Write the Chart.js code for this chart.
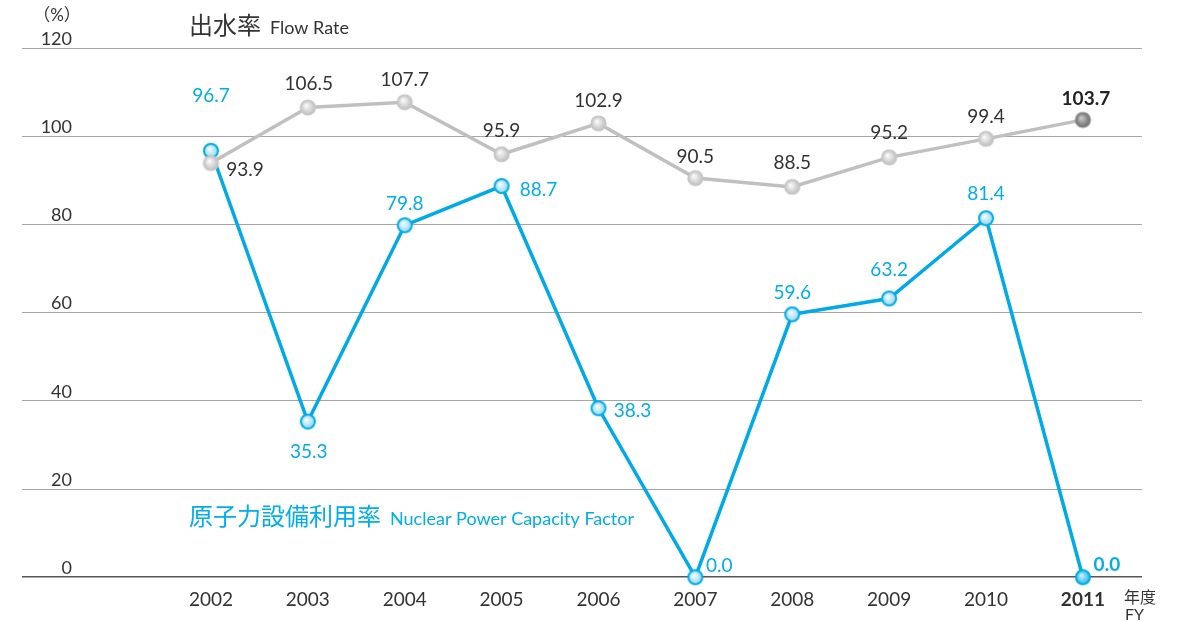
<!DOCTYPE html>
<html>
<head>
<meta charset="utf-8">
<script src="https://cdn.jsdelivr.net/npm/chart.js@4/dist/chart.umd.min.js"></script>
<style>
  html, body { margin: 0; padding: 0; background: #fff; }
  #wrap { position: relative; width: 1182px; height: 621px; }
</style>
</head>
<body>
<div id="wrap"><canvas id="chart" width="1182" height="621"></canvas></div>
<script>
// Data
const years = [2002, 2003, 2004, 2005, 2006, 2007, 2008, 2009, 2010, 2011];
const flowRate = [93.9, 106.5, 107.7, 95.9, 102.9, 90.5, 88.5, 95.2, 99.4, 103.7];
const capacityFactor = [96.7, 35.3, 79.8, 88.7, 38.3, 0.0, 59.6, 63.2, 81.4, 0.0];
const yTicks = [0, 20, 40, 60, 80, 100, 120];

const BLUE = '#00aee8';
const TEXT = '#333333';
const FONT = "Lato, 'Noto Sans CJK JP', sans-serif";

// label offsets from each point (px)
const flowLabelOffsets = [[34, 7], [1, -24], [0, -22], [0, -23], [0, -23], [0, -21], [0, -24], [0, -24], [0, -22], [3, -21]];
const capLabelOffsets = [[0, -55], [1, 30], [0, -21], [37, 4], [34, 3], [24, -11], [0, -21], [0, -29], [0, -24], [24, -12]];

// Small shaded dots used as point styles
function makeDot(r, inner, outer, stroke, lw) {
    const s = Math.ceil(2 * r + lw + 2);
    const c = document.createElement('canvas');
    c.width = c.height = s;
    const g = c.getContext('2d');
    const cx = s / 2;
    const grad = g.createRadialGradient(cx - r * 0.25, cx - r * 0.3, 0, cx, cx, r);
    grad.addColorStop(0, inner);
    grad.addColorStop(1, outer);
    g.beginPath();
    g.arc(cx, cx, r, 0, Math.PI * 2);
    g.fillStyle = grad;
    g.fill();
    g.lineWidth = lw;
    g.strokeStyle = stroke;
    g.stroke();
    return c;
}
const dotBlue = makeDot(7, '#ffffff', '#8fd6f4', BLUE, 2);
const dotBlueLast = makeDot(7, '#d8f4ff', '#22b8ee', BLUE, 2);
const dotGray = makeDot(7.5, '#ffffff', '#bdbdbd', '#c6c6c6', 1.2);
const dotGrayLast = makeDot(7.5, '#d0d0d0', '#6a6a6a', '#8a8a8a', 1.2);

const overlay = {
    id: 'overlay',
    afterDraw(chart) {
        const { ctx, scales: { x, y } } = chart;
        ctx.save();
        ctx.textBaseline = 'middle';

        // y tick labels, above each gridline
        ctx.fillStyle = TEXT;
        ctx.font = '18px ' + FONT;
        ctx.textAlign = 'right';
        yTicks.forEach(v => ctx.fillText(String(v), 72, y.getPixelForValue(v) - 9));
        ctx.font = '17px ' + FONT;
        ctx.textAlign = 'center';
        ctx.fillText('（%）', 57, 16);

        // series titles
        ctx.textAlign = 'left';
        ctx.font = '24px ' + FONT;
        ctx.fillText('出水率', 189, 26);
        ctx.font = '18px ' + FONT;
        ctx.fillText('Flow Rate', 270, 28);
        ctx.fillStyle = BLUE;
        ctx.font = '24px ' + FONT;
        ctx.fillText('原子力設備利用率', 189, 517);
        ctx.font = '18px ' + FONT;
        ctx.fillText('Nuclear Power Capacity Factor', 390, 519);

        // unit under the x axis
        ctx.fillStyle = TEXT;
        ctx.font = '16px ' + FONT;
        ctx.fillText('年度', 1124, 598);
        ctx.fillText('FY', 1125, 615);

        // value labels
        ctx.textAlign = 'center';
        const drawLabels = (dsIndex, values, offsets, color) => {
            const meta = chart.getDatasetMeta(dsIndex);
            meta.data.forEach((pt, i) => {
                const last = i === values.length - 1;
                ctx.font = (last ? 'bold ' : '') + '19px ' + FONT;
                ctx.fillStyle = last && dsIndex === 0 ? '#222' : color;
                ctx.fillText(values[i].toFixed(1), pt.x + offsets[i][0], pt.y + offsets[i][1]);
            });
        };
        drawLabels(0, flowRate, flowLabelOffsets, TEXT);
        drawLabels(1, capacityFactor, capLabelOffsets, BLUE);
        ctx.restore();
    }
};

new Chart(document.getElementById('chart'), {
    type: 'line',
    data: {
        datasets: [
            {
                label: 'Flow Rate',
                data: years.map((yr, i) => ({ x: yr, y: flowRate[i] })),
                borderColor: '#c0c0c0',
                borderWidth: 3.5,
                pointStyle: ctx => ctx.dataIndex === years.length - 1 ? dotGrayLast : dotGray,
                clip: false,
                order: 0
            },
            {
                label: 'Nuclear Power Capacity Factor',
                data: years.map((yr, i) => ({ x: yr, y: capacityFactor[i] })),
                borderColor: '#00a9e8',
                borderWidth: 3.5,
                pointStyle: ctx => ctx.dataIndex === years.length - 1 ? dotBlueLast : dotBlue,
                clip: false,
                order: 1
            }
        ]
    },
    options: {
        responsive: false,
        animation: false,
        layout: { padding: { left: 22, right: 40, top: 48, bottom: 7 } },
        plugins: { legend: { display: false }, tooltip: { enabled: false } },
        scales: {
            x: {
                type: 'linear',
                min: 2000.05,
                max: 2011.61,
                afterBuildTicks: scale => { scale.ticks = years.map(v => ({ value: v })); },
                grid: { display: false },
                border: { display: false },
                ticks: {
                    color: TEXT,
                    padding: 3,
                    maxRotation: 0,
                    autoSkip: false,
                    font: ctx => ({ family: FONT, size: 19, weight: ctx.tick && ctx.tick.value === 2011 ? 'bold' : 'normal' }),
                    callback: v => String(v)
                }
            },
            y: {
                min: 0,
                max: 120,
                afterBuildTicks: scale => { scale.ticks = yTicks.map(v => ({ value: v })); },
                border: { display: false },
                grid: {
                    drawTicks: false,
                    color: ctx => ctx.tick && ctx.tick.value === 0 ? '#555555' : '#a6a6a6',
                    lineWidth: ctx => ctx.tick && ctx.tick.value === 0 ? 1.5 : 1
                },
                ticks: { display: false }
            }
        }
    },
    plugins: [overlay]
});
</script>
</body>
</html>
